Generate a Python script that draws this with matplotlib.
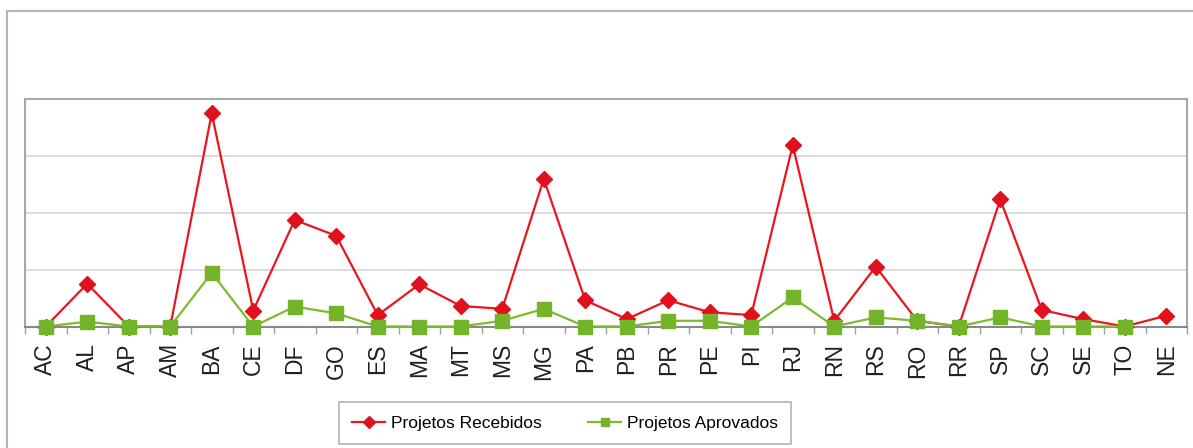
import numpy as np
import matplotlib
matplotlib.use('Agg')
import matplotlib.pyplot as plt
from matplotlib.patches import Rectangle
from matplotlib.ticker import FixedLocator, NullFormatter

plt.rcParams['font.family'] = ['Liberation Sans', 'DejaVu Sans']

# Data (arbitrary units, no y labels shown)
estados = ['AC', 'AL', 'AP', 'AM', 'BA', 'CE', 'DF', 'GO', 'ES', 'MA', 'MT', 'MS',
           'MG', 'PA', 'PB', 'PR', 'PE', 'PI', 'RJ', 'RN', 'RS', 'RO', 'RR', 'SP',
           'SC', 'SE', 'TO', 'NE']
recebidos = [0, 7.5, 0, 0, 37.4, 2.8, 18.7, 15.9, 2.0, 7.4, 3.6, 3.1,
             25.9, 4.6, 1.3, 4.6, 2.5, 2.0, 31.8, 1.0, 10.5, 1.0, 0, 22.3,
             2.9, 1.3, 0, 1.9]
aprovados = [0, 0.85, 0, 0, 9.4, 0, 3.5, 2.3, 0, 0, 0, 1.0,
             3.1, 0, 0, 1.0, 1.0, 0, 5.1, 0, 1.6, 1.0, 0, 1.6,
             0, 0, 0, np.nan]

W, H = 1193, 448
fig = plt.figure(figsize=(W/100, H/100), dpi=100)

# outer chart frame (only left and top edges visible)
fig.patches.append(Rectangle((7/W, -0.1), 1.2, (H-11)/H + 0.1, transform=fig.transFigure,
                             fill=False, edgecolor='#b4b4b4', linewidth=1.5))

ax = fig.add_axes([25/W, 1-326.5/H, (1187-25)/W, (326.5-98.5)/H])
x = np.arange(len(estados))

ax.plot(x, recebidos, color='#e8161e', lw=1.6, marker='D', ms=8,
        mfc='#e0101c', mec='#e0101c', label='Projetos Recebidos', zorder=3, clip_on=False)
ax.plot(x, aprovados, color='#7cbb2e', lw=1.6, marker='s', ms=10.5,
        mfc='#74b42a', mec='#74b42a', label='Projetos Aprovados', zorder=4, clip_on=False)

ax.set_xlim(-0.5, len(estados) - 0.5)
ax.set_ylim(0, 40)
ax.set_yticks([10, 20, 30])
ax.yaxis.set_major_formatter(NullFormatter())
ax.tick_params(axis='y', length=0)
ax.grid(axis='y', color='#d6d6d6', lw=1.2)
ax.set_axisbelow(True)

ax.set_xticks(x)
ax.set_xticklabels(estados, rotation=90, fontsize=16.5, color='#202020')
ax.xaxis.set_minor_locator(FixedLocator(np.arange(-0.5, len(estados), 1)))
ax.tick_params(axis='x', which='major', length=0, pad=12)
ax.tick_params(axis='x', which='minor', length=5, color='#a0a0a0', width=1)

for s in ['left', 'top', 'right']:
    ax.spines[s].set_color('#a8a8a8')
    ax.spines[s].set_linewidth(1.5)
ax.spines['bottom'].set_color('#888888')
ax.spines['bottom'].set_linewidth(1.5)

leg = fig.legend(loc='center', bbox_to_anchor=(565/W, 1-423/H), ncol=2, fontsize=12.5,
                 frameon=True, fancybox=False, edgecolor='#a0a0a0', handlelength=1.9,
                 columnspacing=2.7, borderpad=0.75, handletextpad=0.3)
leg.get_frame().set_linewidth(1.2)
for h in leg.legend_handles:
    h.set_markersize(6)

fig.savefig('out.png', dpi=100)
